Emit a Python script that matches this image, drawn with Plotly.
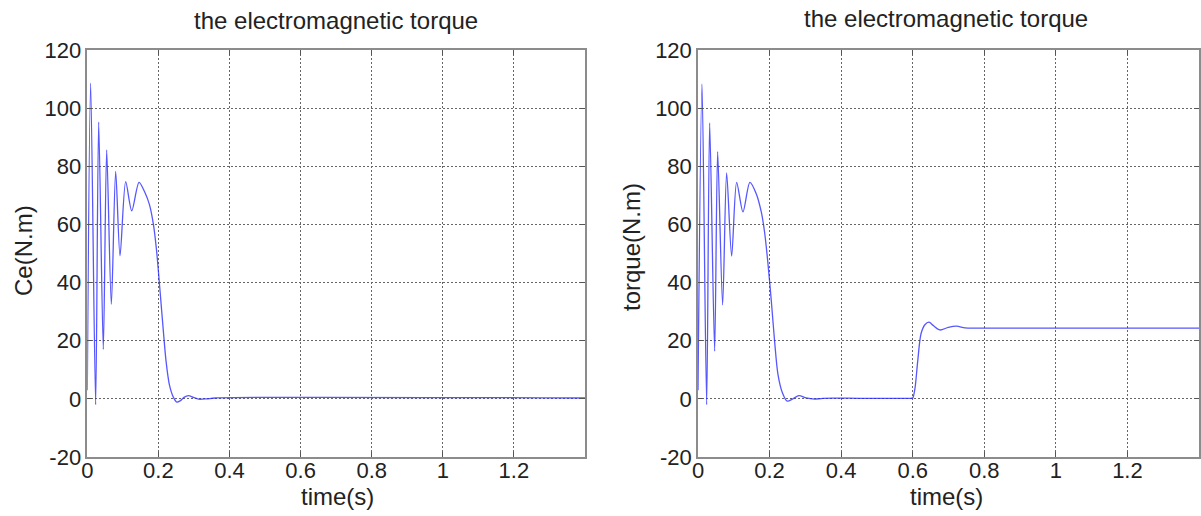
import plotly.graph_objects as go

# ---- data ----
t_left = [0, 0.0094, 0.0235, 0.032, 0.045, 0.0545, 0.0676, 0.0798, 0.092, 0.108, 0.125,
          0.1455, 0.1624, 0.1746, 0.186, 0.195, 0.2047, 0.214, 0.2216, 0.231, 0.2423,
          0.2516, 0.261, 0.272, 0.2845, 0.2986, 0.3127, 0.336, 0.36, 1.4]
ce_left = [3, 108.6, -2.0, 95.2, 17.0, 85.6, 32.5, 78.2, 49.2, 74.7, 64.7,
           74.5, 70.9, 66.9, 60.0, 50.8, 37.0, 23.2, 12.9, 4.8, 0.5,
           -1.1, -0.7, 0.5, 1.1, 0.5, -0.1, 0.0, 0.3, 0.3]

t_right = [0, 0.0112, 0.0242, 0.0326, 0.0465, 0.0549, 0.0688, 0.08, 0.094, 0.108, 0.1256,
           0.145, 0.163, 0.177, 0.186, 0.195, 0.205, 0.214, 0.2233, 0.2353, 0.2493,
           0.265, 0.282, 0.302, 0.3256, 0.349, 0.45, 0.55, 0.595, 0.6, 0.6065, 0.614, 0.623, 0.634,
           0.6456, 0.6577, 0.676, 0.6995, 0.7228, 0.746, 0.78, 1.4]
torque_right = [3, 108.3, -2.0, 94.9, 16.4, 85.0, 32.3, 77.7, 49.1, 74.5, 64.3,
                74.5, 70.5, 64.2, 57.4, 47.2, 33.5, 19.9, 8.5, 2.3, -0.8,
                0.0, 1.1, 0.3, -0.1, 0.2, 0.2, 0.2, 0.2, 0.3, 3.8, 13.0, 22.3, 25.5,
                26.4, 25.2, 23.7, 24.6, 25.0, 24.4, 24.3, 24.3]

x_tickvals = [0, 0.2, 0.4, 0.6, 0.8, 1.0, 1.2]
x_ticktext = ["0", "0.2", "0.4", "0.6", "0.8", "1", "1.2"]
y_tickvals = [-20, 0, 20, 40, 60, 80, 100, 120]
y_ticktext = ["-20", "0", "20", "40", "60", "80", "100", "120"]

title_text = "the electromagnetic torque"
xlabel = "time(s)"
ylabel_left = "Ce(N.m)"
ylabel_right = "torque(N.m)"

FONT = "Liberation Sans, Arial, sans-serif"
TXT = "#222222"
line_style = dict(color="rgba(40,40,255,0.78)", width=1.3, shape="spline", smoothing=0.8)

fig = go.Figure()
fig.add_trace(go.Scatter(x=t_left, y=ce_left, mode="lines", line=line_style,
                         xaxis="x", yaxis="y", showlegend=False))
fig.add_trace(go.Scatter(x=t_right, y=torque_right, mode="lines", line=line_style,
                         xaxis="x2", yaxis="y2", showlegend=False))

xdomL = [87.3 / 1201, 585 / 1201]
xdomR = [698 / 1201, 1199 / 1201]
ydom = [(516 - 457) / 516, (516 - 50) / 516]

common = dict(showgrid=True, gridcolor="#666", griddash="2px,2px", gridwidth=1,
              showline=True, linecolor="#8c8c8c", linewidth=1.5, mirror="ticks",
              ticks="inside", ticklen=5, tickcolor="#555", zeroline=False, automargin=False,
              tickfont=dict(family=FONT, size=22, color=TXT))

def xaxis(dom, anchor):
    return dict(domain=dom, anchor=anchor, range=[0, 1.4], tickvals=x_tickvals,
                ticktext=x_ticktext, ticklabelstandoff=-7, **common)

def yaxis(anchor):
    return dict(domain=ydom, anchor=anchor, range=[-20, 120], tickvals=y_tickvals,
                ticktext=y_ticktext, **common)

cL = (xdomL[0] + xdomL[1]) / 2
afont = dict(family=FONT, size=24, color=TXT)

def ann(text, x, ypix, angle=0):
    return dict(text=text, x=x, y=(516 - ypix) / 516, xref="paper", yref="paper",
                xanchor="center", yanchor="middle", showarrow=False, textangle=angle, font=afont)

annotations = [
    ann(title_text, cL, 21),
    ann(title_text, 946 / 1201, 19),
    ann(xlabel, 337 / 1201, 496),
    ann(xlabel, 946 / 1201, 496),
    ann(ylabel_left, 23 / 1201, 251, -90),
    ann(ylabel_right, 632 / 1201, 247, -90),
]

fig.update_layout(
    width=1201, height=516, margin=dict(l=0, r=0, t=0, b=0, autoexpand=False),
    paper_bgcolor="white", plot_bgcolor="white",
    xaxis=xaxis(xdomL, "y"), yaxis=yaxis("x"),
    xaxis2=xaxis(xdomR, "y2"), yaxis2=yaxis("x2"),
    annotations=annotations,
)
fig.write_html("out.html")
